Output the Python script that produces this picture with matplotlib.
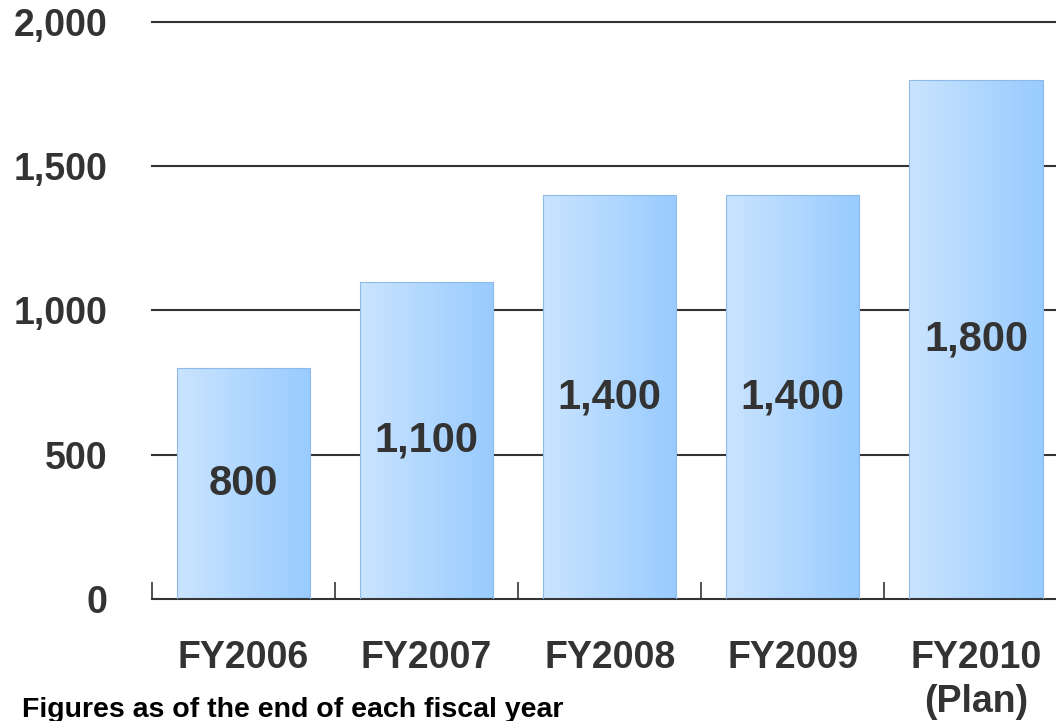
import numpy as np
import matplotlib.pyplot as plt
from matplotlib.colors import LinearSegmentedColormap

# fiscal years and values
years = ['FY2006', 'FY2007', 'FY2008', 'FY2009', 'FY2010\n(Plan)']
values = [800, 1100, 1400, 1400, 1800]
yticks = [0, 500, 1000, 1500, 2000]

plt.rcParams['font.family'] = ['Liberation Sans', 'DejaVu Sans']
text_color = '#333333'

fig = plt.figure(figsize=(10.56, 7.21), dpi=100)
ax = fig.add_axes([0.1439, 0.1692, 0.867, 0.8003])

x = np.arange(len(years))
bars = ax.bar(x, values, width=0.727, color='none', edgecolor='#8fb9e6',
              linewidth=0.8, zorder=3)

# left-to-right gradient inside each bar
cmap = LinearSegmentedColormap.from_list('bar_grad', ['#cae4fe', '#98cbff'])
grad = np.linspace(0, 1, 256).reshape(1, -1)
for b in bars:
    x0, y0 = b.get_x(), b.get_y()
    w, h = b.get_width(), b.get_height()
    im = ax.imshow(grad, cmap=cmap, aspect='auto', extent=[x0, x0 + w, y0, y0 + h],
                   zorder=2)
    im.set_clip_path(b)

for xi, v in zip(x, values):
    ax.text(xi, v / 2, f'{v:,}', ha='center', va='center', fontsize=30,
            fontweight='bold', color=text_color, zorder=4)

ax.set_xlim(-0.5, len(years) - 0.5)
ax.set_ylim(0, 2000)

# horizontal grid lines
for t in yticks[1:]:
    ax.axhline(t, color='#333333', linewidth=1.5, zorder=1, clip_on=False)

for s in ['top', 'right', 'left']:
    ax.spines[s].set_visible(False)
ax.spines['bottom'].set_color('#333333')
ax.spines['bottom'].set_linewidth(1.5)

ax.set_yticks(yticks)
ax.set_yticklabels([f'{t:,}' for t in yticks], fontsize=27, fontweight='bold',
                   color=text_color)
ax.tick_params(axis='y', length=0, pad=32)

# category boundary ticks pointing up, labels centered below
ax.set_xticks(np.arange(len(years) + 1) - 0.5)
ax.set_xticklabels([])
ax.tick_params(axis='x', direction='in', length=12, width=1.2, color='#333333')
for xi, lab in zip(x, years):
    ax.text(xi, -142, lab, ha='center', va='top', fontsize=27, fontweight='bold',
            color=text_color, linespacing=1.3)

fig.text(22 / 1056, 1 - 717 / 721, 'Figures as of the end of each fiscal year',
         ha='left', va='baseline', fontsize=20.5, fontweight='bold', color='black')

fig.savefig('out.png', dpi=100)
